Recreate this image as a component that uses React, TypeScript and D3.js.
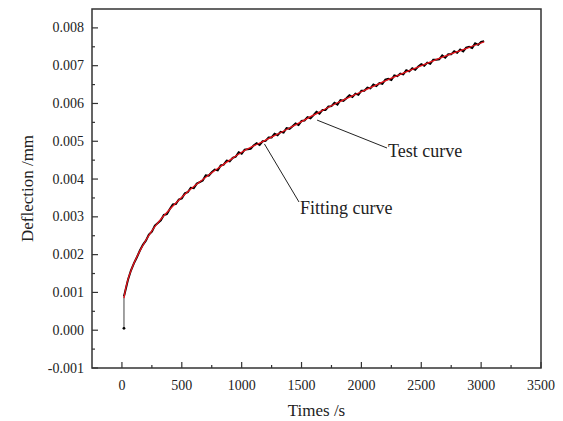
import * as d3 from "d3";

// Fitting curve
const fitTimes = [17, 30, 50, 75, 100, 150, 200, 250, 300, 400, 500, 600, 700, 800, 900, 1000, 1200, 1400, 1600, 1800, 2000, 2200, 2400, 2600, 2800, 3000, 3025];
const fitValues = [0.00085, 0.00108, 0.00134, 0.00157, 0.00177, 0.0021, 0.00238, 0.00263, 0.00284, 0.0032, 0.00352, 0.0038, 0.00405, 0.00428, 0.0045, 0.00471, 0.00503, 0.00535, 0.00569, 0.00602, 0.00631, 0.0066, 0.00687, 0.00713, 0.00737, 0.0076, 0.00763];

// Test curve (measured, noisy), every 25 s
const testTimes = [17, 17, 25, 50, 75, 100, 125, 150, 175, 200, 225, 250, 275, 300, 325, 350, 375, 400, 425, 450, 475, 500, 525, 550, 575, 600, 625, 650, 675, 700, 725, 750, 775, 800, 825, 850, 875, 900, 925, 950, 975, 1000, 1025, 1050, 1075, 1100, 1125, 1150, 1175, 1200, 1225, 1250, 1275, 1300, 1325, 1350, 1375, 1400, 1425, 1450, 1475, 1500, 1525, 1550, 1575, 1600, 1625, 1650, 1675, 1700, 1725, 1750, 1775, 1800, 1825, 1850, 1875, 1900, 1925, 1950, 1975, 2000, 2025, 2050, 2075, 2100, 2125, 2150, 2175, 2200, 2225, 2250, 2275, 2300, 2325, 2350, 2375, 2400, 2425, 2450, 2475, 2500, 2525, 2550, 2575, 2600, 2625, 2650, 2675, 2700, 2725, 2750, 2775, 2800, 2825, 2850, 2875, 2900, 2925, 2950, 2975, 3000, 3025];
const testValues = [0.00005, 0.0009, 0.001, 0.00133, 0.00158, 0.00177, 0.00193, 0.00211, 0.00226, 0.00237, 0.00253, 0.00261, 0.00277, 0.00284, 0.00291, 0.00305, 0.00307, 0.00321, 0.00333, 0.00334, 0.00346, 0.00349, 0.00362, 0.00365, 0.00377, 0.00376, 0.00388, 0.00392, 0.00396, 0.0041, 0.00409, 0.00418, 0.00425, 0.00423, 0.00436, 0.00438, 0.00449, 0.00447, 0.00456, 0.00459, 0.00471, 0.00467, 0.00478, 0.00479, 0.0048, 0.00489, 0.00495, 0.0049, 0.005, 0.00501, 0.0051, 0.0051, 0.0052, 0.00516, 0.00525, 0.00523, 0.00535, 0.00533, 0.0054, 0.00547, 0.00543, 0.00554, 0.00555, 0.00564, 0.00561, 0.00569, 0.00578, 0.00573, 0.00583, 0.00583, 0.00592, 0.00593, 0.00602, 0.00597, 0.00609, 0.00607, 0.00614, 0.00622, 0.00617, 0.00626, 0.00623, 0.00634, 0.00634, 0.00642, 0.0064, 0.0065, 0.00646, 0.00654, 0.00652, 0.00663, 0.00665, 0.00662, 0.00674, 0.00672, 0.00679, 0.00677, 0.00688, 0.00685, 0.00693, 0.00689, 0.00698, 0.00704, 0.007, 0.00708, 0.00705, 0.00716, 0.00716, 0.00717, 0.00727, 0.00721, 0.0073, 0.0073, 0.00738, 0.00734, 0.00743, 0.00738, 0.00748, 0.0075, 0.00747, 0.00759, 0.00755, 0.00763, 0.00765];

const xTicks = [0, 500, 1000, 1500, 2000, 2500, 3000, 3500];
const xMinor = [250, 750, 1250, 1750, 2250, 2750, 3250];
const yTicks = [-0.001, 0, 0.001, 0.002, 0.003, 0.004, 0.005, 0.006, 0.007, 0.008];
const yMinor = [-0.0005, 0.0005, 0.0015, 0.0025, 0.0035, 0.0045, 0.0055, 0.0065, 0.0075];

const W = 563;
const H = 421;
const m = { left: 92, right: 541, top: 9, bottom: 368 };
const font = "Liberation Serif, Times New Roman, serif";

export default function App() {
  const x = d3.scaleLinear().domain([-250, 3500]).range([m.left, m.right]);
  const y = d3.scaleLinear().domain([-0.001, 0.0085]).range([m.bottom, m.top]);

  const testLine = d3
    .line<number>()
    .x((_, i) => x(testTimes[i + 1]))
    .y((d) => y(d));
  const fitLine = d3
    .line<number>()
    .x((_, i) => x(fitTimes[i]))
    .y((d) => y(d))
    .curve(d3.curveMonotoneX);

  const axisColor = "#333";

  return (
    <svg
      width={W}
      height={H}
      style={{ position: "absolute", left: 0, top: 0, background: "#fff", fontFamily: font }}
    >
      {/* data: initial jump drawn thin, then the noisy measured curve */}
      <line
        x1={x(testTimes[0])}
        y1={y(testValues[0])}
        x2={x(testTimes[1])}
        y2={y(testValues[1])}
        stroke="#444"
        strokeWidth={1}
      />
      <circle cx={x(testTimes[0])} cy={y(testValues[0])} r={1.4} fill="#000" />
      <path d={testLine(testValues.slice(1)) ?? ""} fill="none" stroke="#000" strokeWidth={2} />
      <path d={fitLine(fitValues) ?? ""} fill="none" stroke="#e8141c" strokeWidth={1.3} />

      {/* frame */}
      <rect
        x={m.left}
        y={m.top}
        width={m.right - m.left}
        height={m.bottom - m.top}
        fill="none"
        stroke={axisColor}
        strokeWidth={1.5}
      />

      {/* x ticks */}
      {xTicks.map((t) => (
        <g key={"x" + t}>
          <line x1={x(t)} x2={x(t)} y1={m.bottom} y2={m.bottom - 6} stroke={axisColor} strokeWidth={1.2} />
          <text x={x(t)} y={390} textAnchor="middle" fontSize={14} fill="#222">
            {t}
          </text>
        </g>
      ))}
      {xMinor.map((t) => (
        <line key={"xm" + t} x1={x(t)} x2={x(t)} y1={m.bottom} y2={m.bottom - 3} stroke={axisColor} strokeWidth={1.2} />
      ))}

      {/* y ticks */}
      {yTicks.map((t) => (
        <g key={"y" + t}>
          <line x1={m.left} x2={m.left + 6} y1={y(t)} y2={y(t)} stroke={axisColor} strokeWidth={1.2} />
          <text x={84} y={y(t) + 4.5} textAnchor="end" fontSize={14} fill="#222">
            {d3.format(".3f")(t).replace("−", "-")}
          </text>
        </g>
      ))}
      {yMinor.map((t) => (
        <line key={"ym" + t} x1={m.left} x2={m.left + 3} y1={y(t)} y2={y(t)} stroke={axisColor} strokeWidth={1.2} />
      ))}

      {/* axis titles */}
      <text x={(m.left + m.right) / 2} y={416} textAnchor="middle" fontSize={17} fill="#222">
        Times /s
      </text>
      <text
        transform={`translate(33,${(m.top + m.bottom) / 2}) rotate(-90)`}
        textAnchor="middle"
        fontSize={17}
        fill="#222"
      >
        Deflection /mm
      </text>

      {/* annotations */}
      <line x1={x(1630)} y1={y(0.00556)} x2={387} y2={148} stroke="#222" strokeWidth={1} />
      <text x={388} y={157} fontSize={18} fill="#222">
        Test curve
      </text>
      <line x1={x(1190)} y1={y(0.00493)} x2={299} y2={202} stroke="#222" strokeWidth={1} />
      <text x={300} y={214} fontSize={18} fill="#222">
        Fitting curve
      </text>
    </svg>
  );
}
